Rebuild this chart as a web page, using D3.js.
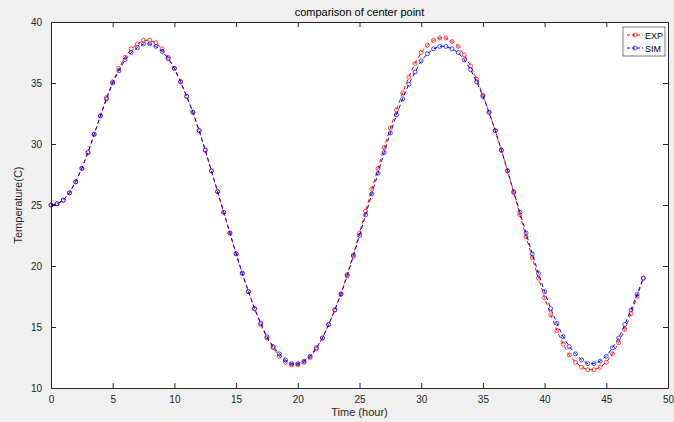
<!DOCTYPE html>
<html>
<head>
<meta charset="utf-8">
<script src="https://cdn.jsdelivr.net/npm/d3@7"></script>
<style>
  body { margin: 0; background: #f0f0f0; }
  svg { display: block; font-family: "Liberation Sans", Arial, sans-serif; }
  .axis text { font-size: 10px; fill: #262626; }
  .axis path, .axis line { stroke: #262626; }
</style>
</head>
<body>
<div id="chart"></div>
<script>
const width = 674, height = 422;
const margin = { top: 22, right: 6, bottom: 34, left: 51 };

// time in hours, sampled every half hour
const times = [
  0, 0.5, 1, 1.5, 2, 2.5, 3, 3.5, 4, 4.5, 5, 5.5, 6, 6.5, 7, 7.5,
  8, 8.5, 9, 9.5, 10, 10.5, 11, 11.5, 12, 12.5, 13, 13.5, 14, 14.5, 15, 15.5,
  16, 16.5, 17, 17.5, 18, 18.5, 19, 19.5, 20, 20.5, 21, 21.5, 22, 22.5, 23, 23.5,
  24, 24.5, 25, 25.5, 26, 26.5, 27, 27.5, 28, 28.5, 29, 29.5, 30, 30.5, 31, 31.5,
  32, 32.5, 33, 33.5, 34, 34.5, 35, 35.5, 36, 36.5, 37, 37.5, 38, 38.5, 39, 39.5,
  40, 40.5, 41, 41.5, 42, 42.5, 43, 43.5, 44, 44.5, 45, 45.5, 46, 46.5, 47, 47.5,
  48
];

const expValues = [
  25.0, 25.1, 25.4, 26.0, 26.9, 28.0, 29.3, 30.8,
  32.3, 33.8, 35.1, 36.2, 37.1, 37.8, 38.2, 38.5,
  38.5, 38.3, 37.8, 37.1, 36.2, 35.1, 33.9, 32.6,
  31.1, 29.5, 27.8, 26.1, 24.4, 22.7, 21.0, 19.4,
  17.9, 16.5, 15.2, 14.1, 13.3, 12.6, 12.1, 11.9,
  11.9, 12.1, 12.5, 13.2, 14.1, 15.2, 16.4, 17.7,
  19.3, 20.9, 22.7, 24.5, 26.3, 28.0, 29.7, 31.3,
  32.8, 34.2, 35.5, 36.6, 37.5, 38.1, 38.5, 38.7,
  38.7, 38.4, 38.0, 37.3, 36.4, 35.3, 34.0, 32.6,
  31.1, 29.5, 27.8, 26.0, 24.2, 22.4, 20.7, 19.0,
  17.4, 16.0, 14.7, 13.6, 12.7, 12.1, 11.7, 11.5,
  11.5, 11.7, 12.1, 12.8, 13.7, 14.8, 16.1, 17.5,
  19.0
];

const simValues = [
  25.0, 25.1, 25.4, 26.0, 26.9, 28.0, 29.3, 30.8,
  32.3, 33.7, 35.0, 36.0, 36.9, 37.5, 37.9, 38.2,
  38.2, 38.0, 37.6, 37.0, 36.2, 35.1, 33.9, 32.6,
  31.1, 29.5, 27.8, 26.1, 24.4, 22.7, 21.0, 19.4,
  17.9, 16.5, 15.3, 14.2, 13.4, 12.8, 12.3, 12.0,
  12.0, 12.2, 12.6, 13.3, 14.1, 15.2, 16.4, 17.7,
  19.2, 20.8, 22.5, 24.2, 25.9, 27.6, 29.3, 30.9,
  32.4, 33.7, 34.9, 35.9, 36.8, 37.4, 37.8, 38.0,
  38.0, 37.8, 37.5, 36.9, 36.1, 35.1, 33.9, 32.6,
  31.1, 29.5, 27.8, 26.1, 24.4, 22.7, 21.0, 19.4,
  17.9, 16.5, 15.3, 14.2, 13.4, 12.8, 12.3, 12.0,
  12.0, 12.2, 12.6, 13.3, 14.1, 15.2, 16.4, 17.7,
  19.0
];

const xTicks = [0, 5, 10, 15, 20, 25, 30, 35, 40, 45, 50];
const yTicks = [10, 15, 20, 25, 30, 35, 40];

const seriesInfo = [
  { id: "EXP", values: expValues, color: "#ff0000", dash: "4,3" },
  { id: "SIM", values: simValues, color: "#0000ff", dash: "4,3" }
];

const innerWidth = width - margin.left - margin.right;
const innerHeight = height - margin.top - margin.bottom;

const xScale = d3.scaleLinear().domain([0, 50]).range([0, innerWidth]);
const yScale = d3.scaleLinear().domain([10, 40]).range([innerHeight, 0]);

const svg = d3.select("#chart")
  .append("svg")
    .attr("width", width)
    .attr("height", height);

const innerChart = svg
  .append("g")
    .attr("transform", `translate(${margin.left}, ${margin.top})`);

innerChart
  .append("rect")
    .attr("width", innerWidth)
    .attr("height", innerHeight)
    .attr("fill", "#fff");

// axes, ticks pointing inward like matlab
innerChart
  .append("g")
    .attr("class", "axis")
    .attr("transform", `translate(0, ${innerHeight})`)
    .call(d3.axisBottom(xScale).tickValues(xTicks).tickSize(-5).tickSizeOuter(0).tickPadding(8));
innerChart
  .append("g")
    .attr("class", "axis")
    .call(d3.axisLeft(yScale).tickValues(yTicks).tickSize(-5).tickSizeOuter(0).tickPadding(9));

// box on: top and right sides with ticks, no labels
const topAxis = innerChart
  .append("g")
    .attr("class", "axis")
    .call(d3.axisTop(xScale).tickValues(xTicks).tickSize(-5).tickSizeOuter(0));
topAxis.selectAll("text").remove();
const rightAxis = innerChart
  .append("g")
    .attr("class", "axis")
    .attr("transform", `translate(${innerWidth}, 0)`)
    .call(d3.axisRight(yScale).tickValues(yTicks).tickSize(-5).tickSizeOuter(0));
rightAxis.selectAll("text").remove();

const line = d3.line()
  .x((d, i) => xScale(times[i]))
  .y(d => yScale(d));

seriesInfo.forEach(s => {
  const g = innerChart.append("g");
  g.append("path")
    .attr("d", line(s.values))
    .attr("fill", "none")
    .attr("stroke", s.color)
    .attr("stroke-width", 1)
    .attr("stroke-dasharray", s.dash);
  g.selectAll("circle")
    .data(s.values)
    .join("circle")
      .attr("cx", (d, i) => xScale(times[i]))
      .attr("cy", d => yScale(d))
      .attr("r", 2)
      .attr("fill", "none")
      .attr("stroke", s.color)
      .attr("stroke-width", 0.7);
});

// title and axis labels
svg.append("text")
  .attr("x", margin.left + innerWidth / 2)
  .attr("y", 16)
  .attr("text-anchor", "middle")
  .style("font-size", "11px")
  .attr("fill", "#000")
  .text("comparison of center point");

svg.append("text")
  .attr("x", margin.left + innerWidth / 2)
  .attr("y", 416)
  .attr("text-anchor", "middle")
  .style("font-size", "11px")
  .attr("fill", "#262626")
  .text("Time (hour)");

svg.append("text")
  .attr("transform", `translate(22, ${margin.top + innerHeight / 2}) rotate(-90)`)
  .attr("text-anchor", "middle")
  .style("font-size", "11px")
  .attr("fill", "#262626")
  .text("Temperature(C)");

// legend
const legend = svg.append("g")
  .attr("transform", "translate(623, 27)");
legend.append("rect")
  .attr("width", 42)
  .attr("height", 29)
  .attr("fill", "#fff")
  .attr("stroke", "#262626")
  .attr("stroke-width", 0.6);
seriesInfo.forEach((s, i) => {
  const y = 8 + i * 13;
  legend.append("line")
    .attr("x1", 4).attr("x2", 20)
    .attr("y1", y).attr("y2", y)
    .attr("stroke", s.color)
    .attr("stroke-dasharray", "3,2");
  legend.append("circle")
    .attr("cx", 12).attr("cy", y).attr("r", 2)
    .attr("fill", "none").attr("stroke", s.color).attr("stroke-width", 0.7);
  legend.append("text")
    .attr("x", 22).attr("y", y + 3.5)
    .style("font-size", "9px")
    .attr("fill", "#000")
    .text(s.id);
});
</script>
</body>
</html>
